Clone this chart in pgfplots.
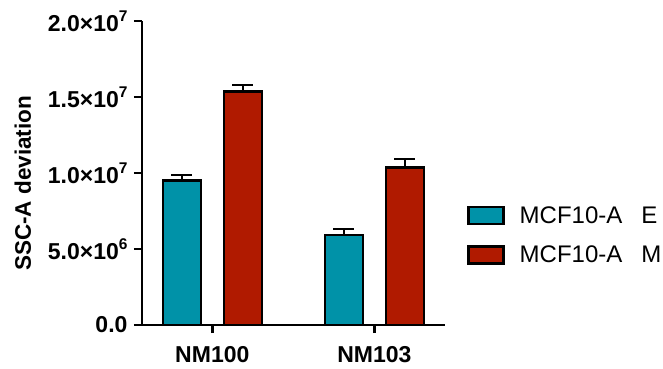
\documentclass[border=0pt]{standalone}
\usepackage{fontspec}
\setmainfont{Liberation Sans}
\usepackage{pgfplots}
\pgfplotsset{compat=1.18}
\definecolor{tealc}{HTML}{0092A8}
\definecolor{redc}{HTML}{B01A00}
\newcommand{\sups}[1]{\raisebox{0.42em}{\fontsize{15.5}{15.5}\selectfont #1}}
\begin{document}
\begin{tikzpicture}
\begin{axis}[name=a, scale only axis, width=303pt, height=304pt,
  xmin=-0.434, xmax=1.436, ymin=0, ymax=2e7,
  clip=false,
  axis lines=left, axis line style={-, line width=2.5pt, black},
  xtick={0,1}, xticklabels={NM100,NM103},
  ytick={0,5e6,1e7,1.5e7,2e7},
  yticklabels={0.0, 5.0×10\sups{6}, 1.0×10\sups{7}, 1.5×10\sups{7}, 2.0×10\sups{7}},
  scaled y ticks=false,
  tick style={line width=2.5pt, black}, major tick length=8pt, tick align=outside,
  xtick pos=bottom, ytick pos=left,
  ticklabel style={font=\fontsize{23}{27}\selectfont\bfseries},
  xticklabel style={yshift=-10pt},
  yticklabel style={xshift=-3pt},
  ylabel={SSC-A deviation},
  ylabel style={font=\fontsize{22.5}{26}\selectfont\bfseries, at={(axis description cs:-0.393,0.466)}, anchor=center},
  ybar, bar width=38pt,
  error bars/y dir=plus, error bars/y explicit,
  error bars/error bar style={line width=2pt, black},
  error bars/error mark options={rotate=90, mark size=10.5pt, line width=2pt, black},
  legend style={at={(axis description cs:1.0726,0.294)}, anchor=west, draw=none, fill=none, inner sep=0pt,
    font=\fontsize{24}{27}\selectfont, row sep=17pt,
    /tikz/every odd column/.append style={column sep=13pt}},
  legend cell align=left,
]
\addplot[fill=tealc, draw=black, line width=2.5pt, bar shift=-30.5pt,
  legend image code/.code={\draw[fill=tealc, draw=black, line width=2.5pt] (0pt,-8pt) rectangle (35pt,9pt);}]
  coordinates {(0,9.5e6) +- (0,0.35e6) (1,5.92e6) +- (0,0.4e6)};
\addlegendentry{MCF10-A\hspace{19pt}E}
\addplot[fill=redc, draw=black, line width=2.5pt, bar shift=30.5pt,
  legend image code/.code={\draw[fill=redc, draw=black, line width=2.5pt] (0pt,-8pt) rectangle (35pt,9pt);}]
  coordinates {(0,1.535e7) +- (0,0.44e6) (1,1.035e7) +- (0,0.59e6)};
\addlegendentry{MCF10-A\hspace{19pt}M}
\end{axis}
\pgfresetboundingbox
\path (a.south west) ++(-142pt,-43pt) rectangle ++(663pt,368pt);
\end{tikzpicture}
\end{document}
